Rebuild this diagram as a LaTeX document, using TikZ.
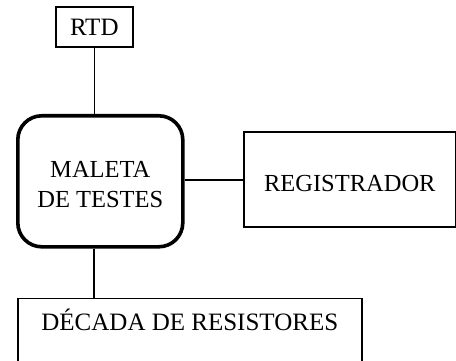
\documentclass[tikz,border=0pt]{standalone}
\usepackage{fontspec}
\setmainfont{Liberation Serif}
\begin{document}
\begin{tikzpicture}[x=1pt,y=-1pt,
  box/.style={draw,line width=1.6pt,inner sep=0pt,anchor=north west},
  lbl/.style={font=\fontsize{24.5}{28}\selectfont,inner sep=0pt},
  wire/.style={line width=1.2pt}]
\useasboundingbox (0,0) rectangle (456,361);
\node[box,minimum width=77pt,minimum height=40pt] (rtd) at (55,6) {};
\node[lbl,font=\fontsize{25}{28}\selectfont] at ([yshift=-1pt]rtd.center) {RTD};
\node[box,line width=3.6pt,rounded corners=24pt,minimum width=165pt,minimum height=131pt] (mal) at (16,114) {};
\node[lbl,align=center,font=\fontsize{24.5}{30}\selectfont] at ([yshift=-3pt]mal.center) {MALETA\\DE TESTES};
\node[box,minimum width=212pt,minimum height=95pt] (reg) at (243,131) {};
\node[lbl] at ([yshift=-4pt]reg.center) {REGISTRADOR};
\node[box,minimum width=344pt,minimum height=63pt] (dec) at (17,297.5) {};
\node[lbl,font=\fontsize{25}{28}\selectfont] at ([yshift=10pt]dec.center) {DÉCADA DE RESISTORES};
\draw[wire] (rtd.south) -- (rtd.south |- mal.north);
\draw[wire] (mal.east |- 0,180) -- (reg.west |- 0,180);
\coordinate (b) at (94,0);
\draw[wire] (b |- mal.south) -- (b |- dec.north);
\end{tikzpicture}
\end{document}
